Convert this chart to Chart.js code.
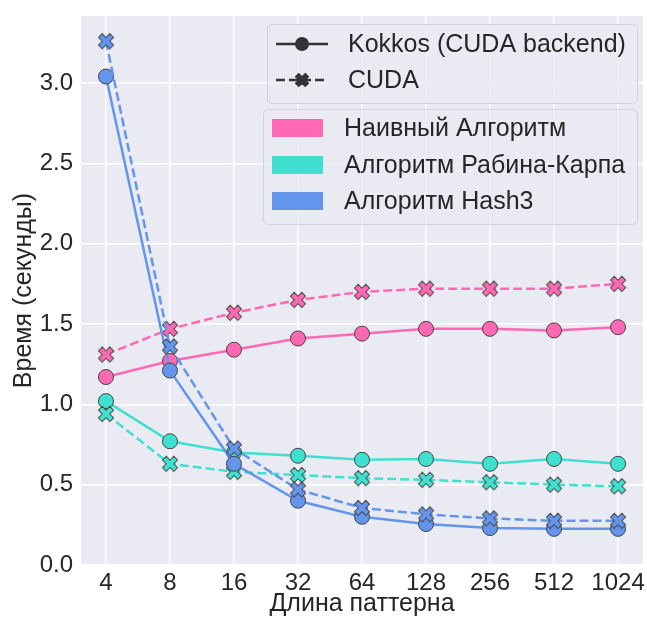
<!DOCTYPE html>
<html>
<head>
<meta charset="utf-8">
<script src="https://cdn.jsdelivr.net/npm/chart.js@4/dist/chart.umd.min.js"></script>
<style>
  html, body { margin: 0; padding: 0; background: #fff; }
  #wrap { width: 647px; height: 619px; }
</style>
</head>
<body>
<div id="wrap"><canvas id="chart"></canvas></div>
<script>
// ---- data ----
const patternLengths = ['4', '8', '16', '32', '64', '128', '256', '512', '1024'];
const naiveKokkos = [1.17, 1.27, 1.34, 1.41, 1.44, 1.47, 1.47, 1.46, 1.48];
const naiveCuda   = [1.31, 1.47, 1.57, 1.65, 1.70, 1.72, 1.72, 1.72, 1.75];
const rkKokkos    = [1.02, 0.77, 0.70, 0.68, 0.655, 0.66, 0.63, 0.66, 0.63];
const rkCuda      = [0.94, 0.63, 0.58, 0.56, 0.54, 0.53, 0.515, 0.50, 0.49];
const hashKokkos  = [3.04, 1.21, 0.63, 0.40, 0.30, 0.255, 0.23, 0.225, 0.225];
const hashCuda    = [3.26, 1.36, 0.725, 0.47, 0.355, 0.315, 0.29, 0.275, 0.275];
const yTickLabels = ['0.0', '0.5', '1.0', '1.5', '2.0', '2.5', '3.0'];
const algoNames = ['Наивный Алгоритм', 'Алгоритм Рабина-Карпа', 'Алгоритм Hash3'];
const implNames = ['Kokkos (CUDA backend)', 'CUDA'];

const PINK = '#ff69b4', TEAL = '#40e0d0', BLUE = '#6495ed';
const FONT = '"Liberation Sans", Arial, sans-serif';
const TEXT = '#262626';
const EDGE = '#444';

// filled "X" marker like matplotlib's 'X'
function xMarker(fill, size, edge) {
    const c = document.createElement('canvas');
    const s = size + 4;
    c.width = c.height = s;
    const g = c.getContext('2d');
    const a = 1 / 6;
    const pts = [[-a, -.5], [a, -.5], [a, -a], [.5, -a], [.5, a], [a, a], [a, .5], [-a, .5], [-a, a], [-.5, a], [-.5, -a], [-a, -a]];
    g.translate(s / 2, s / 2);
    g.rotate(Math.PI / 4);
    g.beginPath();
    pts.forEach(([x, y], i) => i ? g.lineTo(x * size, y * size) : g.moveTo(x * size, y * size));
    g.closePath();
    g.fillStyle = fill; g.fill();
    g.lineWidth = 1; g.strokeStyle = edge; g.stroke();
    return c;
}

function series(label, values, color, cuda, order) {
    return {
        label, order,
        data: values.map((y, i) => ({ x: i, y })),
        borderColor: color,
        borderWidth: 2.5,
        borderDash: cuda ? [9, 4] : [],
        pointStyle: cuda ? xMarker(color, 16, EDGE) : 'circle',
        pointRadius: 7.5,
        pointBackgroundColor: color,
        pointBorderColor: EDGE,
        pointBorderWidth: 1,
        tension: 0,
        fill: false
    };
}

// plot background
const bgPlugin = {
    id: 'bg',
    beforeDraw(chart) {
        const { ctx, chartArea: a } = chart;
        ctx.save();
        ctx.fillStyle = '#fff';
        ctx.fillRect(0, 0, chart.width, chart.height);
        ctx.fillStyle = '#eaeaf2';
        ctx.fillRect(a.left, a.top, a.right - a.left, a.bottom - a.top);
        ctx.restore();
    }
};

function roundBox(g, x, y, w, h, r) {
    g.beginPath();
    g.roundRect(x, y, w, h, r);
    g.fillStyle = 'rgba(234,234,242,0.8)';
    g.fill();
    g.lineWidth = 1;
    g.strokeStyle = 'rgba(204,204,210,0.8)';
    g.stroke();
}

// two legend boxes: line style legend and colour legend
const legendPlugin = {
    id: 'twoLegends',
    afterDraw(chart) {
        const g = chart.ctx;
        g.save();
        roundBox(g, 267.5, 24.5, 370, 79, 5);
        roundBox(g, 263.5, 109.5, 374, 115, 5);

        g.font = '25px ' + FONT;
        g.fillStyle = TEXT;
        g.textBaseline = 'middle';
        g.textAlign = 'left';

        const rows1 = [44, 80];
        implNames.forEach((name, i) => {
            const y = rows1[i];
            g.save();
            g.strokeStyle = '#333';
            g.lineWidth = 2.5;
            g.setLineDash(i ? [9, 4] : []);
            g.beginPath(); g.moveTo(276, y); g.lineTo(328, y); g.stroke();
            g.restore();
            if (i === 0) {
                g.beginPath(); g.arc(302, y, 7, 0, Math.PI * 2);
                g.fillStyle = '#333'; g.fill();
            } else {
                const m = xMarker('#333', 14, '#333');
                g.drawImage(m, 302 - m.width / 2, y - m.height / 2);
            }
            g.fillStyle = TEXT;
            g.fillText(name, 348, y + 1);
        });

        const rows2 = [128, 165, 201];
        const cols = [PINK, TEAL, BLUE];
        algoNames.forEach((name, i) => {
            const y = rows2[i];
            g.fillStyle = cols[i];
            g.fillRect(272, y - 9, 51, 18);
            g.fillStyle = TEXT;
            g.fillText(name, 344, y + 1);
        });
        g.restore();
    }
};

new Chart(document.getElementById('chart'), {
    type: 'line',
    data: {
        datasets: [
            series('Наивный Алгоритм Kokkos', naiveKokkos, PINK, false, 5),
            series('Наивный Алгоритм CUDA', naiveCuda, PINK, true, 4),
            series('Рабина-Карпа Kokkos', rkKokkos, TEAL, false, 3),
            series('Рабина-Карпа CUDA', rkCuda, TEAL, true, 2),
            series('Hash3 Kokkos', hashKokkos, BLUE, false, 1),
            series('Hash3 CUDA', hashCuda, BLUE, true, 0)
        ]
    },
    options: {
        responsive: true,
        maintainAspectRatio: false,
        animation: false,
        events: [],
        layout: { autoPadding: false, padding: { top: 16, right: 4, left: 0, bottom: 0 } },
        plugins: { legend: { display: false }, tooltip: { enabled: false } },
        scales: {
            x: {
                type: 'linear', min: -0.39, max: 8.39,
                border: { display: false },
                grid: { color: '#fff', lineWidth: 1.5, drawTicks: false },
                ticks: {
                    stepSize: 1, includeBounds: false, autoSkip: false, maxRotation: 0,
                    padding: 4, color: TEXT, font: { size: 24, family: FONT },
                    callback: v => patternLengths[v] ?? ''
                },
                title: { display: true, text: 'Длина паттерна', color: TEXT, font: { size: 25, family: FONT }, padding: { top: 0, bottom: 0 } },
                afterFit: s => { s.height = 54; s.paddingLeft = 0; s.paddingRight = 0; }
            },
            y: {
                type: 'linear', min: 0, max: 3.417,
                border: { display: false },
                grid: { color: '#fff', lineWidth: 1.5, drawTicks: false },
                ticks: {
                    stepSize: 0.5, includeBounds: false,
                    padding: 8, color: TEXT, font: { size: 24, family: FONT },
                    callback: v => yTickLabels[Math.round(v / 0.5)] ?? ''
                },
                title: { display: true, text: 'Время (секунды)', color: TEXT, font: { size: 25, family: FONT }, padding: { top: 9, bottom: 0 } },
                afterFit: s => { s.width = 81; s.paddingTop = 0; s.paddingBottom = 0; }
            }
        }
    },
    plugins: [bgPlugin, legendPlugin]
});
</script>
</body>
</html>
